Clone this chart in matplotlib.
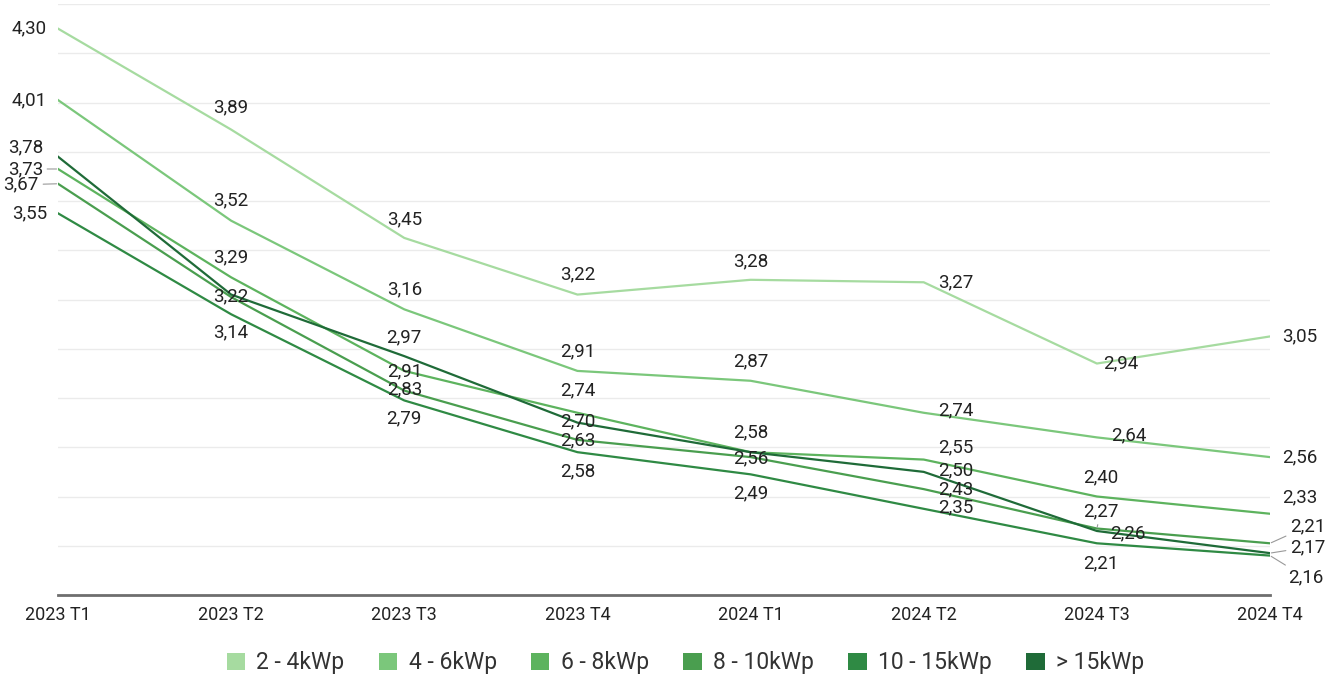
import matplotlib.pyplot as plt
from matplotlib.patches import Patch

plt.rcParams['font.family'] = ['Roboto', 'DejaVu Sans']

quarters = ['2023 T1', '2023 T2', '2023 T3', '2023 T4',
            '2024 T1', '2024 T2', '2024 T3', '2024 T4']

series_names = ['2 - 4kWp', '4 - 6kWp', '6 - 8kWp', '8 - 10kWp', '10 - 15kWp', '> 15kWp']
colors = ['#a6dba0', '#7bc77b', '#5db35e', '#4a9e4f', '#2f8a44', '#1f6b38']

v_2_4 = [4.30, 3.89, 3.45, 3.22, 3.28, 3.27, 2.94, 3.05]
v_4_6 = [4.01, 3.52, 3.16, 2.91, 2.87, 2.74, 2.64, 2.56]
v_6_8 = [3.73, 3.29, 2.91, 2.74, 2.58, 2.55, 2.40, 2.33]
v_8_10 = [3.67, 3.21, 2.83, 2.63, 2.56, 2.43, 2.27, 2.21]
v_10_15 = [3.55, 3.14, 2.79, 2.58, 2.49, 2.35, 2.21, 2.16]
v_15 = [3.78, 3.22, 2.97, 2.70, 2.58, 2.50, 2.26, 2.17]
values = [v_2_4, v_4_6, v_6_8, v_8_10, v_10_15, v_15]

# label offsets in pixels (dx, dy, leader line); None = label hidden
offsets = [
    [(-11, 0, 0), (0, 22, 0), (0, 19, 0), (0, 20, 0), (0, 18, 0), (32, 0, 0), (24, 0, 0), (12, 0, 0)],
    [(-11, 0, 0), (0, 20, 0), (0, 20, 0), (0, 20, 0), (0, 19, 0), (32, 2, 0), (32, 2, 0), (12, 0, 0)],
    [(-15, 0, 1), (0, 20, 0), (0, 0, 0), (0, 22, 0), (0, 20, 0), (32, 12, 0), (4, 19, 0), (12, 16, 0)],
    [(-19, -1, 1), None, (0, 1, 0), (0, 0, 0), (0, -1, 0), (32, 0, 0), (4, 17, 1), (20, 17, 1)],
    [(-11, 0, 0), (0, -18, 0), (0, -18, 0), (0, -19, 0), (0, -19, 0), (32, 1, 0), (4, -20, 0), (18, -22, 1)],
    [(-15, 9, 0), (0, -2, 0), (0, 19, 0), (0, 1, 0), None, (32, 2, 0), (31, -2, 0), (20, 6, 1)],
]

fig = plt.figure(figsize=(13.44, 6.83), dpi=100)
ax = fig.add_axes([58 / 1344, 1 - 595 / 683, (1270 - 58) / 1344, 591 / 683])

x = list(range(len(quarters)))
for name, vals, col in zip(series_names, values, colors):
    ax.plot(x, vals, color=col, lw=1.6, solid_joinstyle='round', zorder=3)

last = len(quarters) - 1
for vals, offs in zip(values, offsets):
    for i, (v, off) in enumerate(zip(vals, offs)):
        if off is None:
            continue
        dx, dy, lead = off
        ha = 'right' if i == 0 else ('left' if i == last else 'center')
        arrow = None
        if lead:
            arrow = dict(arrowstyle='-', color='#999999', lw=0.8, shrinkA=1, shrinkB=1)
        ax.annotate(f'{v:.2f}'.replace('.', ','), (i, v), xytext=(dx, dy),
                    textcoords='offset pixels', ha=ha, va='center',
                    fontsize=13.5, color='#222222', arrowprops=arrow, zorder=5,
                    annotation_clip=False)

ax.set_xlim(0, last)
ax.set_ylim(2.0, 4.4)
ax.set_yticks([2.0 + 0.2 * k for k in range(13)])
ax.set_yticklabels([])
ax.tick_params(axis='y', length=0)
ax.grid(axis='y', color='#ebebeb', lw=1)
ax.set_axisbelow(True)
ax.set_xticks(x)
ax.set_xticklabels(quarters, fontsize=13, color='#222222')
ax.tick_params(axis='x', length=0, pad=8)
for s in ['top', 'right', 'left']:
    ax.spines[s].set_visible(False)
ax.spines['bottom'].set_color('#6e6e6e')
ax.spines['bottom'].set_linewidth(2)

handles = [Patch(facecolor=c, edgecolor='none') for c in colors]
fig.legend(handles, series_names, loc='center', bbox_to_anchor=(0.51, 1 - 663 / 683),
           ncol=6, frameon=False, fontsize=16.5, handlelength=0.8, handleheight=0.8,
           handletextpad=0.5, columnspacing=1.5, labelcolor='#333333')

fig.savefig('out.png', dpi=100)
